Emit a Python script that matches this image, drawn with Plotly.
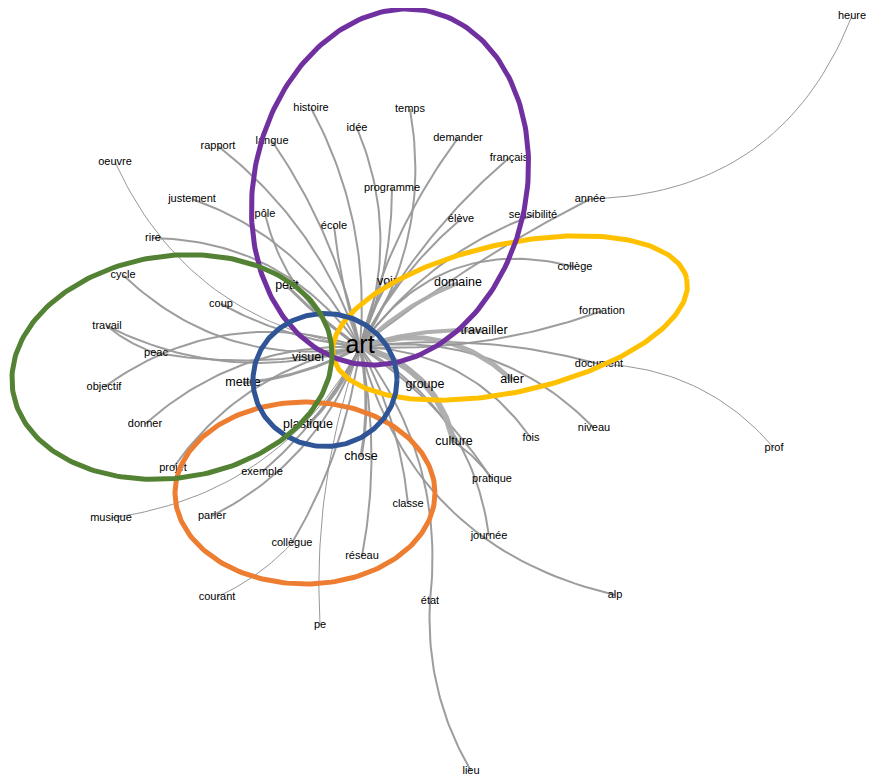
import numpy as np
import plotly.graph_objects as go

# ---- data: words and their layout coordinates (pixel space of the original network layout)
words = ["art", "heure", "histoire", "temps", "idée", "demander", "langue", "rapport", "oeuvre",
         "français", "programme", "justement", "année", "élève", "sensibilité", "pôle", "école",
         "rire", "collège", "cycle", "domaine", "voir", "petit", "coup", "formation", "travail",
         "travailler", "peac", "visuel", "mettre", "document", "groupe", "aller", "objectif",
         "donner", "plastique", "fois", "niveau", "culture", "prof", "chose", "projet", "exemple",
         "pratique", "classe", "musique", "parler", "journée", "collègue", "réseau", "courant",
         "alp", "état", "pe", "lieu"]
word_x = [360, 852, 311, 410, 357, 458, 272, 218, 115, 509, 392, 192, 590, 461, 533, 265, 334,
          153, 575, 123, 458, 387, 287, 221, 602, 107, 484, 156, 308, 243, 599, 425, 512, 104,
          145, 308, 531, 594, 454, 774, 361, 173, 262, 492, 408, 111, 212, 489, 292, 362, 217,
          615, 430, 320, 471]
word_y = [347, 16, 108, 109, 128, 138, 141, 146, 162, 158, 188, 199, 199, 219, 215, 214, 226,
          238, 267, 275, 283, 282, 286, 304, 311, 326, 331, 353, 358, 383, 364, 385, 380, 387,
          424, 425, 438, 428, 442, 448, 457, 468, 472, 479, 504, 518, 516, 536, 543, 556, 597,
          595, 601, 625, 771]
major_words = ["visuel", "domaine", "travailler", "groupe", "aller", "culture", "chose",
               "plastique", "mettre", "petit", "voir"]

# edges: source, target, co-occurrence strength
edge_src = ["heure", "année", "prof", "document", "lieu", "état", "alp", "journée", "pratique",
            "culture", "fois", "niveau", "aller", "formation", "travailler", "collège", "domaine",
            "élève", "sensibilité", "français", "demander", "temps", "idée", "histoire",
            "programme", "langue", "rapport", "école", "pôle", "justement", "rire", "oeuvre",
            "cycle", "travail", "objectif", "peac", "donner", "coup", "petit", "voir", "visuel",
            "mettre", "projet", "plastique", "exemple", "musique", "parler", "collègue",
            "courant", "réseau", "pe", "chose", "classe", "groupe", "pratique", "travail"]
edge_dst = ["année", "art", "document", "art", "état", "art", "art", "art", "art",
            "art", "art", "art", "art", "art", "art", "art", "art",
            "art", "art", "art", "art", "art", "art", "art",
            "art", "art", "art", "art", "art", "art", "art", "art",
            "art", "art", "art", "art", "art", "art", "art", "art", "art",
            "art", "art", "art", "art", "art", "art", "art",
            "collègue", "art", "art", "art", "art", "art", "culture", "peac"]
edge_weight = [1, 2, 1, 2, 2, 2, 2, 2, 2,
               6, 2, 2, 5, 2, 4, 2, 4,
               2, 2, 2, 2, 2, 2, 2,
               2, 2, 2, 2, 2, 2, 2, 1,
               2, 2, 2, 2, 2, 2, 3, 3, 5,
               3, 2, 3, 2, 1, 2, 2,
               1, 2, 1, 3, 2, 5, 2, 2]

# ---- styling (curvature of each edge, as fraction of its length)
bend = {"heure": -0.33, "année": 0.05, "prof": 0.22, "document": 0.1, "lieu": -0.15,
        "état": 0.2, "alp": -0.3, "journée": 0.25, "pratique": 0.1, "culture": 0.3,
        "fois": 0.25, "niveau": 0.25, "aller": 0.3, "formation": -0.1, "travailler": 0.1,
        "collège": 0.35, "domaine": 0.1, "élève": 0.1, "sensibilité": 0.15, "français": 0.1,
        "demander": 0.1, "temps": -0.2, "idée": -0.2, "histoire": -0.15, "programme": -0.1,
        "langue": -0.1, "rapport": -0.15, "école": 0.05, "pôle": 0.2, "justement": -0.2,
        "rire": -0.25, "oeuvre": 0.27, "cycle": 0.25, "travail": 0.2, "objectif": -0.25,
        "peac": 0.1, "donner": -0.2, "coup": 0.1, "petit": 0.05, "voir": 0.05, "visuel": 0.05,
        "mettre": 0.1, "projet": -0.2, "plastique": 0.1, "exemple": 0.1, "musique": 0.25,
        "parler": 0.2, "collègue": 0.1, "courant": 0.1, "réseau": 0.1, "pe": -0.1,
        "chose": 0.1, "classe": 0.1, "groupe": 0.15}

# ellipses highlighting clusters: centre x, centre y, semi-axis a (along angle), semi-axis b, angle (deg, ccw)
ell_color = ["#ED7D31", "#FFC000", "#7030A0", "#2F5597", "#548235"]
ell_cx = [305, 510, 390, 325, 172]
ell_cy = [493, 318, 187, 380, 367]
ell_a = [130, 181, 180, 72, 161]
ell_b = [91, 74, 136, 66.5, 111]
ell_ang = [0, 12.5, 77, 0, 8.5]

pos = {w: (x, y) for w, x, y in zip(words, word_x, word_y)}

fig = go.Figure()

t = np.linspace(0, 1, 40)
for s, d, w in zip(edge_src, edge_dst, edge_weight):
    x0, y0 = pos[s]
    x1, y1 = pos[d]
    dx, dy = x1 - x0, y1 - y0
    k = bend.get(s, 0.1)
    if d != "art" and s not in ("heure", "prof", "lieu", "courant"):
        k = 0.1
    mx, my = (x0 + x1) / 2, (y0 + y1) / 2
    cx, cy = mx + k * (-dy), my + k * dx
    bx = (1 - t) ** 2 * x0 + 2 * (1 - t) * t * cx + t ** 2 * x1
    by = (1 - t) ** 2 * y0 + 2 * (1 - t) * t * cy + t ** 2 * y1
    if w >= 4:
        col = "rgba(172,172,172,0.95)"
    elif w == 1:
        col = "rgba(140,140,140,0.9)"
    else:
        col = "rgba(152,152,152,0.95)"
    fig.add_trace(go.Scatter(x=bx, y=by, mode="lines", hoverinfo="skip",
                             line=dict(color=col, width=w if w > 1 else 1),
                             showlegend=False))

# labels
small = [w for w in words if w not in major_words and w != "art"]
fig.add_trace(go.Scatter(x=[pos[w][0] for w in small], y=[pos[w][1] for w in small],
                         mode="text", text=small, hoverinfo="skip", showlegend=False,
                         textfont=dict(family="Liberation Sans, Arial", size=11, color="black")))
fig.add_trace(go.Scatter(x=[pos[w][0] for w in major_words], y=[pos[w][1] for w in major_words],
                         mode="text", text=major_words, hoverinfo="skip", showlegend=False,
                         textfont=dict(family="Liberation Sans, Arial", size=12.5, color="black")))
fig.add_trace(go.Scatter(x=[pos["art"][0]], y=[pos["art"][1]], mode="text", text=["art"],
                         hoverinfo="skip", showlegend=False,
                         textfont=dict(family="Liberation Sans, Arial", size=25, color="black")))

# ellipses
th = np.linspace(0, 2 * np.pi, 240)
for col, cx, cy, a, b, ang in zip(ell_color, ell_cx, ell_cy, ell_a, ell_b, ell_ang):
    r = np.deg2rad(ang)
    ux, uy = np.cos(r), -np.sin(r)
    vx, vy = np.sin(r), np.cos(r)
    ex = cx + a * np.cos(th) * ux + b * np.sin(th) * vx
    ey = cy + a * np.cos(th) * uy + b * np.sin(th) * vy
    fig.add_trace(go.Scatter(x=ex, y=ey, mode="lines", hoverinfo="skip", showlegend=False,
                             line=dict(color=col, width=5)))

# the page body has an 8px margin: size the figure so the picture spans the window exactly
fig.update_layout(width=866, height=770, autosize=False,
                  margin=dict(l=0, r=0, t=0, b=0),
                  paper_bgcolor="white", plot_bgcolor="white",
                  xaxis=dict(range=[8, 874], visible=False, fixedrange=True),
                  yaxis=dict(range=[778, 8], visible=False, fixedrange=True))
fig.write_html("out.html")
